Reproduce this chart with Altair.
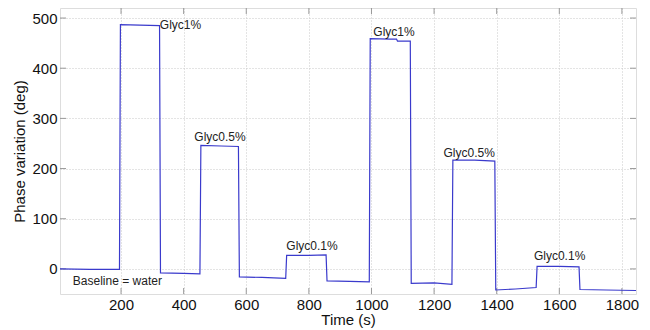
import altair as alt
import pandas as pd

time_s = [5, 100, 195, 198, 260, 323, 326, 400, 452, 455, 520, 575, 578, 650, 726,
          729, 800, 855, 858, 930, 993, 996, 1060, 1080, 1083, 1124, 1127, 1200, 1257,
          1260, 1330, 1394, 1397, 1460, 1526, 1529, 1600, 1663, 1666, 1750, 1845]
phase = [0, -1, -1, 487, 486, 485, -8, -9, -10, 246, 245, 244, -16, -17, -19,
         27, 27, 28, -24, -25, -26, 459, 458, 458, 454, 454, -29, -28, -31,
         217, 217, 215, -42, -40, -37, 5, 5, 4, -41, -42, -43]

labels = ["Glyc1%", "Glyc0.5%", "Glyc0.1%", "Glyc1%", "Glyc0.5%", "Glyc0.1%"]
label_x = [324, 516, 810, 1072, 1312, 1601]
label_y = [486, 262, 45, 473, 232, 25]
label_align = ["left", "center", "center", "center", "center", "center"]

x_ticks = [200, 400, 600, 800, 1000, 1200, 1400, 1600, 1800]
y_ticks = [0, 100, 200, 300, 400, 500]

W, H = 576, 286
FONT = "Liberation Sans"

df = pd.DataFrame({"t": time_s, "p": phase})
lab = pd.DataFrame({"x": label_x, "y": label_y, "text": labels, "align": label_align})

xs = alt.Scale(domain=[5, 1845], nice=False, zero=False)
ys = alt.Scale(domain=[-50, 520], nice=False, zero=False)

common_axis = dict(grid=True, gridDash=[1, 2], gridColor="#c8c8c8", ticks=False, domain=False,
                   labelFontSize=15, titleFontSize=15, labelFont=FONT, titleFont=FONT,
                   labelColor="#111", titleColor="#111", titleFontWeight="normal")

line = alt.Chart(df).mark_line(color="#3a3acc", strokeWidth=1.2).encode(
    x=alt.X("t:Q", scale=xs, title="Time (s)",
            axis=alt.Axis(values=x_ticks, format="d", labelPadding=3, titlePadding=0,
                          **common_axis)),
    y=alt.Y("p:Q", scale=ys, title="Phase variation (deg)",
            axis=alt.Axis(values=y_ticks, format="d", labelPadding=3, titlePadding=4,
                          **common_axis)),
    order="t:Q",
)

lab_left = alt.Chart(lab[lab["align"] == "left"]).mark_text(
    align="left", baseline="middle", font=FONT, fontSize=12, color="#222"
).encode(x=alt.X("x:Q", scale=xs), y=alt.Y("y:Q", scale=ys), text="text:N")
lab_center = alt.Chart(lab[lab["align"] == "center"]).mark_text(
    align="center", baseline="middle", font=FONT, fontSize=12, color="#222"
).encode(x=alt.X("x:Q", scale=xs), y=alt.Y("y:Q", scale=ys), text="text:N")

base_note = alt.Chart(pd.DataFrame({"x": [46], "y": [-25], "text": ["Baseline = water"]})).mark_text(
    align="left", baseline="middle", font=FONT, fontSize=12, color="#222"
).encode(x=alt.X("x:Q", scale=xs), y=alt.Y("y:Q", scale=ys), text="text:N")

xt = pd.DataFrame({"v": x_ticks})
yt = pd.DataFrame({"v": y_ticks})
tick_color = "#999"
xb = alt.Chart(xt).mark_rule(color=tick_color).encode(
    x=alt.X("v:Q", scale=xs), y=alt.value(H), y2=alt.value(H - 6))
xtp = alt.Chart(xt).mark_rule(color=tick_color).encode(
    x=alt.X("v:Q", scale=xs), y=alt.value(0), y2=alt.value(6))
yl = alt.Chart(yt).mark_rule(color=tick_color).encode(
    y=alt.Y("v:Q", scale=ys), x=alt.value(0), x2=alt.value(6))
yr = alt.Chart(yt).mark_rule(color=tick_color).encode(
    y=alt.Y("v:Q", scale=ys), x=alt.value(W), x2=alt.value(W - 6))

chart = alt.layer(xb, xtp, yl, yr, line, lab_left, lab_center, base_note).properties(
    width=W, height=H,
    autosize=alt.AutoSizeParams(type="none"),
    padding={"left": 52, "top": 0, "right": 6, "bottom": 36},
).configure_view(stroke="#aaaaaa", strokeWidth=1.2).configure(background="white")

chart.save("out.html", embed_options={"renderer": "svg", "actions": False})
